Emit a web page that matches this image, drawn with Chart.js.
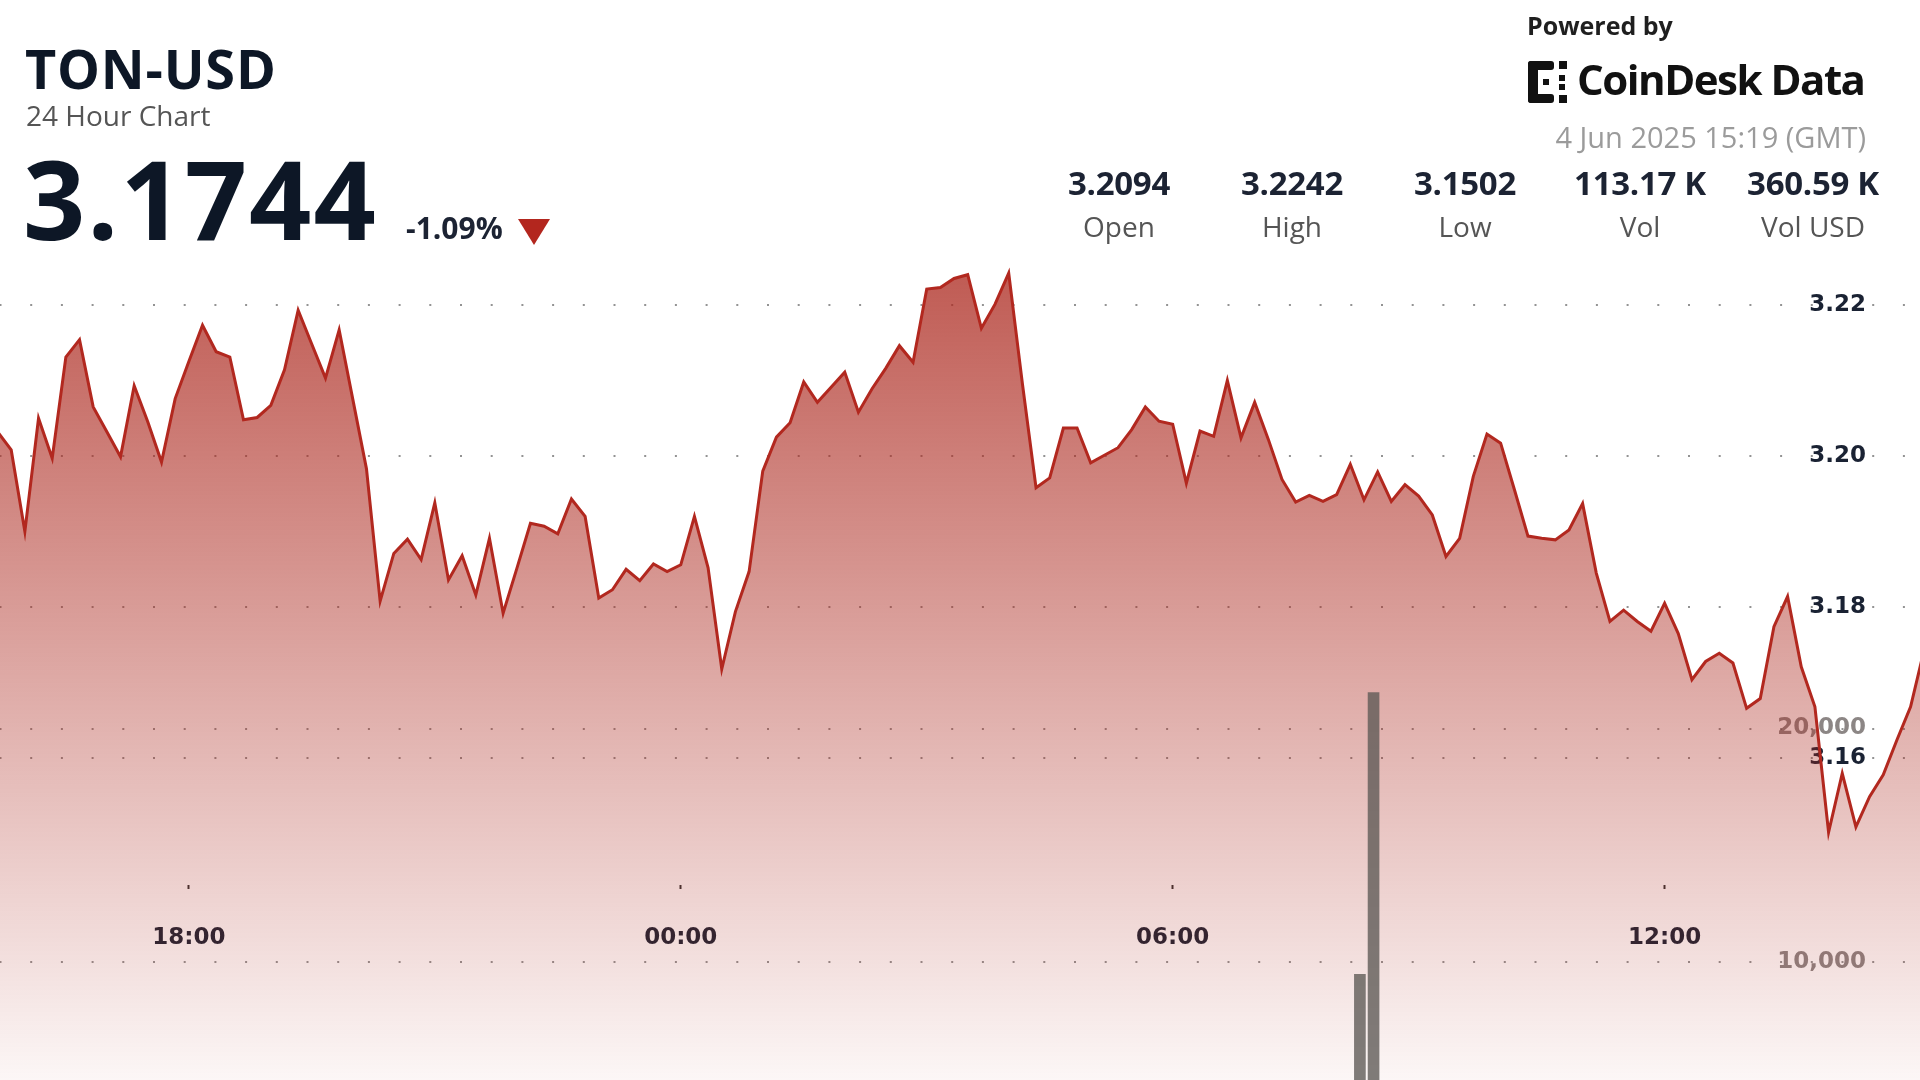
<!DOCTYPE html>
<html>
<head>
<meta charset="utf-8">
<script src="https://cdn.jsdelivr.net/npm/chart.js@4.4.1/dist/chart.umd.min.js"></script>
<style>
html,body{margin:0;padding:0;background:#fff;}
#wrap{position:relative;width:1920px;height:1080px;overflow:hidden;background:#fff;}
#c{position:absolute;left:0;top:0;}
.t{position:absolute;white-space:nowrap;line-height:1;font-family:'Open Sans',sans-serif;z-index:2;}
.col{position:absolute;width:190px;text-align:center;white-space:nowrap;line-height:1;font-family:'Open Sans',sans-serif;z-index:2;}
#tri{position:absolute;left:518px;top:219px;width:0;height:0;border-left:16px solid transparent;border-right:16px solid transparent;border-top:26px solid #b3261e;z-index:2;}
#logo{position:absolute;left:1526px;top:59px;z-index:2;}
</style>
</head>
<body>
<div id="wrap">
  <canvas id="c" width="1920" height="1080"></canvas>
  <div class="t" id="sym" style="left:25px;top:41px;font-size:54px;font-weight:700;letter-spacing:0.8px;color:#0d1726;">TON-USD</div>
  <div class="t" id="sub" style="left:26px;top:101px;font-size:28px;color:#555;">24 Hour Chart</div>
  <div class="t" id="last" style="left:23px;top:143px;font-size:109px;font-weight:700;letter-spacing:2px;color:#0d1726;"></div>
  <div class="t" id="chg" style="left:406px;top:213px;font-size:30px;font-weight:700;color:#1c2333;"></div>
  <div id="tri"></div>
  <div class="t" id="pow" style="left:1527px;top:13px;font-size:25px;font-weight:700;letter-spacing:0px;color:#1f1f1f;">Powered by</div>
  <svg id="logo" width="50" height="46" viewBox="0 0 50 46">
    <rect x="2" y="2" width="10" height="42" rx="3" fill="#111"/>
    <rect x="2" y="2" width="26" height="9" rx="3" fill="#111"/>
    <rect x="2" y="35" width="26" height="9" rx="3" fill="#111"/>
    <rect x="33" y="2" width="8" height="8" fill="#111"/>
    <rect x="33" y="36" width="8" height="8" fill="#111"/>
    <rect x="33" y="16" width="6" height="6" fill="#111"/>
    <rect x="33" y="25" width="6" height="6" fill="#111"/>
    <rect x="17" y="20" width="6" height="6" fill="#111"/>
  </svg>
  <div class="t" id="brand" style="left:1577px;top:58px;font-size:42px;font-weight:700;letter-spacing:-1.5px;color:#111;">CoinDesk Data</div>
  <div class="t" id="date" style="right:54px;top:122px;font-size:29px;color:#9b9b9b;"></div>
  <div id="stats"></div>
</div>
<script>
// ---- header values ----
const symbol = 'TON-USD';
const lastPrice = '3.1744';
const changePct = '-1.09%';
const stampText = '4 Jun 2025 15:19 (GMT)';
const statLabels = ['Open', 'High', 'Low', 'Vol', 'Vol USD'];
const statValues = ['3.2094', '3.2242', '3.1502', '113.17 K', '360.59 K'];

// ---- price series: 10-minute closes from 15:40 (3 Jun) ----
const seriesStart = '15:40';
const stepMinutes = 10;
const prices = [
  3.2032, 3.2008, 3.1900, 3.2050, 3.1997, 3.2131, 3.2154, 3.2065, 3.2032, 3.1999,
  3.2093, 3.2045, 3.1992, 3.2076, 3.2125, 3.2173, 3.2138, 3.2131, 3.2048, 3.2051,
  3.2067, 3.2114, 3.2193, 3.2148, 3.2103, 3.2167, 3.2075, 3.1983, 3.1808, 3.1871,
  3.1890, 3.1863, 3.1938, 3.1836, 3.1868, 3.1816, 3.1891, 3.1792, 3.1851, 3.1911,
  3.1907, 3.1897, 3.1943, 3.1920, 3.1812, 3.1823, 3.1850, 3.1835, 3.1857, 3.1847,
  3.1856, 3.1920, 3.1852, 3.1718, 3.1794, 3.1847, 3.1980, 3.2025, 3.2044, 3.2098,
  3.2071, 3.2091, 3.2111, 3.2058, 3.2089, 3.2116, 3.2146, 3.2124, 3.2221, 3.2223,
  3.2235, 3.2240, 3.2169, 3.2201, 3.2242, 3.2096, 3.1958, 3.1971, 3.2037, 3.2037,
  3.1991, 3.2001, 3.2011, 3.2035, 3.2065, 3.2046, 3.2042, 3.1964, 3.2033, 3.2026,
  3.2100, 3.2024, 3.2071, 3.2022, 3.1969, 3.1939, 3.1948, 3.1940, 3.1949, 3.1989,
  3.1942, 3.1979, 3.1940, 3.1962, 3.1947, 3.1922, 3.1867, 3.1891, 3.1973, 3.2029,
  3.2017, 3.1956, 3.1894, 3.1891, 3.1889, 3.1902, 3.1937, 3.1845, 3.1781, 3.1796,
  3.1781, 3.1768, 3.1805, 3.1765, 3.1704, 3.1728, 3.1739, 3.1726, 3.1666, 3.1679,
  3.1774, 3.1814, 3.1721, 3.1668, 3.1502, 3.1580, 3.1509, 3.1549, 3.1578, 3.1624,
  3.1668, 3.1744
];

// ---- visible volume bars ----
const volumeTimes = ['08:17', '08:27'];
const volumeValues = [9460, 21540];

// ---- axis ticks ----
const xTickLabels = ['18:00', '00:00', '06:00', '12:00'];
const priceTicks = [3.16, 3.18, 3.20, 3.22];
const volumeTicks = [10000, 20000];

// time label -> minutes relative to 00:00 on 4 Jun
function toMin(label, prevDay) {
  const [h, m] = label.split(':').map(Number);
  return h * 60 + m - (prevDay ? 1440 : 0);
}
const startMin = toMin(seriesStart, true);
const priceTimeLabels = prices.map((_, i) => {
  const m = ((startMin + i * stepMinutes) % 1440 + 1440) % 1440;
  return String(Math.floor(m / 60)).padStart(2, '0') + ':' + String(m % 60).padStart(2, '0');
});
let dayShift = true;
const priceX = priceTimeLabels.map((lab, i) => {
  if (i > 0 && lab === '00:00') dayShift = false;
  return toMin(lab, dayShift);
});
const xTickValues = xTickLabels.map(l => toMin(l, l === '18:00'));

// header text
document.getElementById('last').textContent = lastPrice;
document.getElementById('chg').textContent = changePct;
document.getElementById('date').textContent = stampText;
const centers = [1119, 1292, 1465, 1640, 1813];
const statsEl = document.getElementById('stats');
statValues.forEach((v, i) => {
  const a = document.createElement('div');
  a.className = 'col';
  a.style.cssText = `left:${centers[i] - 95}px;top:166px;font-size:33px;font-weight:700;color:#1c2333;letter-spacing:-0.3px;`;
  a.textContent = v;
  statsEl.appendChild(a);
  const b = document.createElement('div');
  b.className = 'col';
  b.style.cssText = `left:${centers[i] - 95}px;top:212px;font-size:28px;color:#555;`;
  b.textContent = statLabels[i];
  statsEl.appendChild(b);
});

function fillGradient(context) {
  const chart = context.chart;
  const area = chart.chartArea;
  if (!area) return 'rgba(176,40,30,0.3)';
  const g = chart.ctx.createLinearGradient(0, area.top, 0, area.bottom);
  g.addColorStop(0, 'rgba(172,40,30,0.80)');
  g.addColorStop(1, 'rgba(172,40,30,0.04)');
  return g;
}

const tickFont = { family: 'DejaVu Sans', size: 23, weight: 'bold' };
const gridDots = { display: false, dash: [2, 28.7], dashOffset: 0.5 };

new Chart(document.getElementById('c'), {
  data: {
    datasets: [
      {
        type: 'bar',
        label: 'Volume',
        data: volumeTimes.map((t, i) => ({ x: toMin(t, false), y: volumeValues[i] })),
        xAxisID: 'x',
        yAxisID: 'yVol',
        backgroundColor: 'rgba(92,88,84,0.78)',
        barThickness: 11,
        order: 0
      },
      {
        type: 'line',
        label: symbol,
        data: priceX.map((x, i) => ({ x: x, y: prices[i] })),
        xAxisID: 'x',
        yAxisID: 'y',
        borderColor: '#b2281f',
        borderWidth: 3,
        pointRadius: 0,
        tension: 0,
        fill: 'start',
        backgroundColor: fillGradient,
        order: 1
      }
    ]
  },
  options: {
    responsive: false,
    animation: false,
    devicePixelRatio: 1,
    layout: { padding: { top: 230, left: 0, right: 0, bottom: 0 } },
    plugins: { legend: { display: false }, tooltip: { enabled: false } },
    scales: {
      x: {
        type: 'linear',
        min: -498.2,
        max: 906.9,
        offset: false,
        position: { y: 3.1432 },
        afterBuildTicks: ax => { ax.ticks = xTickValues.map(v => ({ value: v })); },
        ticks: {
          callback: (v, i) => xTickLabels[i],
          font: tickFont,
          color: '#1c2333',
          padding: 35,
          maxRotation: 0,
          autoSkip: false
        },
        grid: { offset: false, drawOnChartArea: false, drawTicks: true, tickLength: 4, tickWidth: 2, tickColor: '#333' },
        border: { display: false }
      },
      y: {
        position: 'right',
        min: 3.117406,
        max: 3.229914,
        afterBuildTicks: ax => { ax.ticks = priceTicks.map(v => ({ value: v })); },
        afterFit: ax => { ax.width = 0; },
        ticks: {
          mirror: true,
          padding: -54,
          font: tickFont,
          color: '#1a2233',
          callback: v => v.toFixed(2)
        },
        grid: { color: 'rgba(120,120,120,0.8)', lineWidth: 2, drawTicks: false },
        border: gridDots
      },
      yVol: {
        position: 'right',
        min: 4927,
        max: 41377,
        afterBuildTicks: ax => { ax.ticks = volumeTicks.map(v => ({ value: v })); },
        afterFit: ax => { ax.width = 0; },
        ticks: {
          mirror: true,
          padding: -54,
          font: tickFont,
          color: 'rgba(95,88,86,0.72)',
          callback: v => v.toLocaleString('en-US')
        },
        grid: { color: 'rgba(120,120,120,0.8)', lineWidth: 2, drawTicks: false },
        border: gridDots
      }
    }
  }
});
</script>
</body>
</html>
